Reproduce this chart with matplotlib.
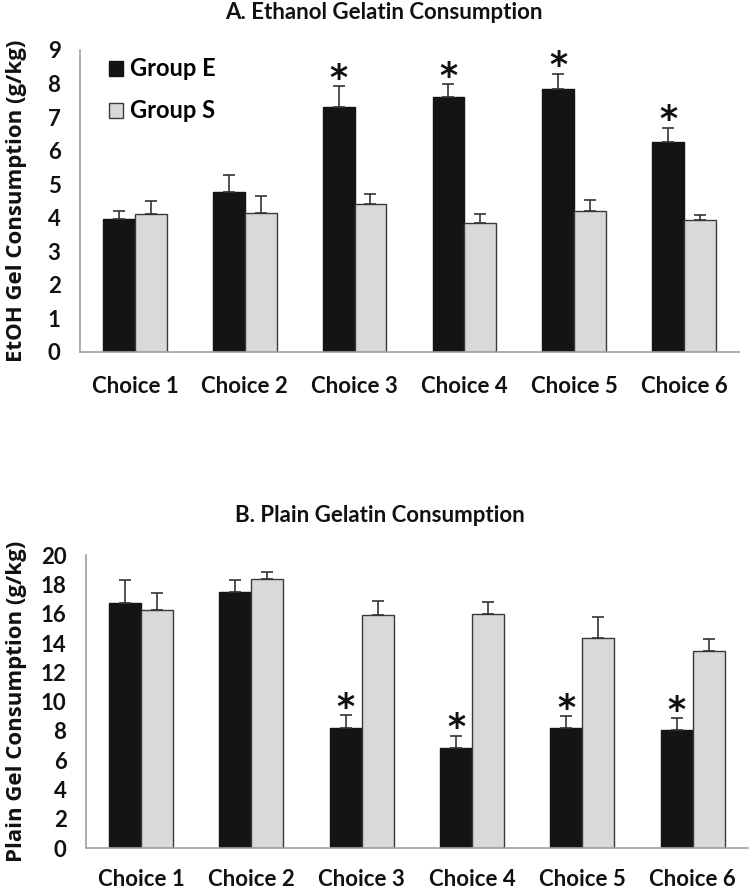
import matplotlib.pyplot as plt
import numpy as np

plt.rcParams['font.family'] = ['Lato', 'DejaVu Sans']
plt.rcParams['font.weight'] = 'bold'

choices = ['Choice 1', 'Choice 2', 'Choice 3', 'Choice 4', 'Choice 5', 'Choice 6']

# A. ethanol gelatin
etoh_e = [3.97, 4.77, 7.30, 7.60, 7.82, 6.25]
etoh_e_err = [0.22, 0.50, 0.61, 0.39, 0.47, 0.43]
etoh_s = [4.10, 4.15, 4.41, 3.83, 4.21, 3.92]
etoh_s_err = [0.40, 0.50, 0.31, 0.27, 0.33, 0.17]
etoh_star = [False, False, True, True, True, True]

# B. plain gelatin
plain_e = [16.7, 17.45, 8.23, 6.86, 8.23, 8.09]
plain_e_err = [1.6, 0.85, 0.86, 0.82, 0.79, 0.77]
plain_s = [16.25, 18.38, 15.9, 16.0, 14.32, 13.45]
plain_s_err = [1.15, 0.5, 0.96, 0.82, 1.48, 0.85]
plain_star = [False, False, True, True, True, True]

fig = plt.figure(figsize=(7.51, 8.91), dpi=100)
axA = fig.add_axes([0.1065, 0.605, 0.8775, 0.339])
axB = fig.add_axes([0.1145, 0.048, 0.8815, 0.329])

x = np.arange(len(choices))
w = 0.29


def panel(ax, e, e_err, s, s_err, star, ymax, step, title, title_x, ylabel, tpad, xpad):
    ax.bar(x - w / 2, e, w, color='#141414', edgecolor='#141414', label='Group E', zorder=2)
    ax.bar(x + w / 2, s, w, color='#d9d9d9', edgecolor='#3a3a3a', linewidth=1.0,
           label='Group S', zorder=2)
    ax.errorbar(x - w / 2, e, yerr=[np.zeros(len(e)), e_err], fmt='none',
                ecolor='#333333', elinewidth=1.2, capsize=4, capthick=1.2, zorder=3)
    ax.errorbar(x + w / 2, s, yerr=[np.zeros(len(s)), s_err], fmt='none',
                ecolor='#333333', elinewidth=1.2, capsize=4, capthick=1.2, zorder=3)
    for i in range(len(e)):
        if star[i]:
            ax.annotate('*', (x[i] - w / 2, e[i] + e_err[i]), xytext=(0, -7),
                        textcoords='offset points', ha='center', va='bottom',
                        fontsize=25, color='#111111', family='DejaVu Sans')
    ax.set_xlim(-0.5, len(choices) - 0.5)
    ax.set_ylim(0, ymax)
    ax.set_yticks(np.arange(0, ymax + step / 2, step))
    ax.set_xticks(x)
    ax.set_xticklabels(choices)
    ax.tick_params(length=0, labelsize=16, colors='#111111')
    ax.tick_params(axis='y', pad=14)
    ax.tick_params(axis='x', pad=xpad)
    for sp in ['top', 'right']:
        ax.spines[sp].set_visible(False)
    for sp in ['left', 'bottom']:
        ax.spines[sp].set_color('#a0a0a0')
        ax.spines[sp].set_linewidth(1.2)
    ax.set_title(title, fontsize=16, fontweight='bold', pad=tpad, color='#111111',
                 x=title_x)
    ax.set_ylabel(ylabel, fontsize=16, fontweight='bold', family='Open Sans',
                  color='#111111')


panel(axA, etoh_e, etoh_e_err, etoh_s, etoh_s_err, etoh_star, 9, 1,
      'A. Ethanol Gelatin Consumption', 0.461, 'EtOH Gel Consumption (g/kg)', 22.5, 17)
panel(axB, plain_e, plain_e_err, plain_s, plain_s_err, plain_star, 20, 2,
      'B. Plain Gelatin Consumption', 0.444, 'Plain Gel Consumption (g/kg)', 24, 15)

axA.yaxis.set_label_coords(-0.080, 0.5)
axB.yaxis.set_label_coords(-0.089, 0.5)

axA.legend(loc='upper left', bbox_to_anchor=(0.044, 0.975), frameon=False,
           fontsize=17, labelspacing=0.8, handlelength=0.6, handleheight=0.6,
           handletextpad=0.3, borderpad=0, borderaxespad=0)

fig.savefig('out.png', dpi=100)
